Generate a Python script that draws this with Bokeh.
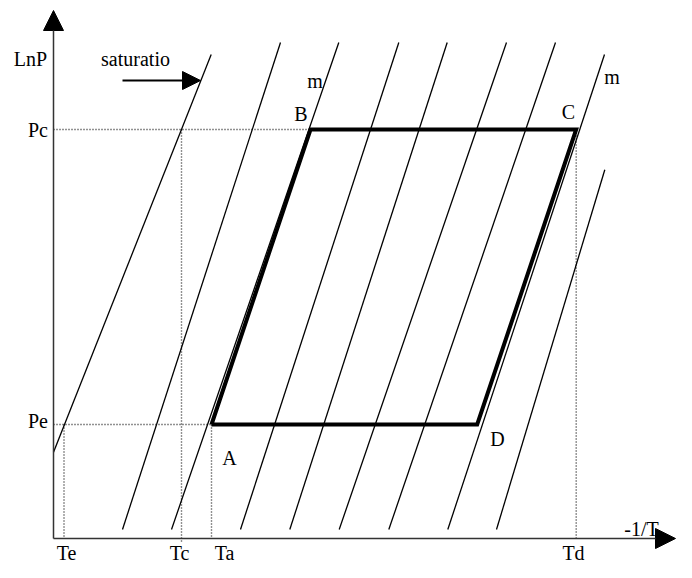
from bokeh.plotting import figure
from bokeh.models import Range1d, Arrow, NormalHead
from bokeh.core.properties import value
from bokeh.embed import file_html
from bokeh.resources import INLINE

# --- values (arbitrary units: x = -1/T, y = LnP) ---
temp_labels = ["Te", "Tc", "Ta", "Td"]
temp_x = [10.5, 128, 158, 522.7]
pres_labels = ["Pe", "Pc"]
pres_y = [114, 409]

# thermodynamic cycle A-B-C-D
cycle_labels = ["A", "B", "C", "D"]
cycle_x = [158, 257, 522.7, 423.7]
cycle_y = [114, 409, 409, 114]

# isosteres (start / end points)
iso_x0 = [69, 118, 187, 236.3, 285.7, 335.3, 394.3, 443]
iso_y0 = [9, 9, 9, 9, 9, 9, 9, 9]
iso_x1 = [227, 285.3, 345.3, 393.7, 453, 502, 551, 551.3]
iso_y1 = [496, 496, 496, 496, 496, 496, 484, 368.7]

# saturation line
sat_x = [0, 157.7]
sat_y = [86.3, 484]

FONT = value("Liberation Serif")

p = figure(width=676, height=562, x_range=Range1d(-53, 623), y_range=Range1d(-24, 538),
           output_backend="svg", toolbar_location=None, x_axis_type=None, y_axis_type=None,
           min_border=0)
p.grid.visible = False
p.outline_line_color = None
p.background_fill_color = "white"

# axes as arrows
p.add_layout(Arrow(end=NormalHead(size=20, fill_color="black", line_color="black"),
                   x_start=0, y_start=0, x_end=0, y_end=528, line_width=1.5, line_color="#333"))
p.add_layout(Arrow(end=NormalHead(size=20, fill_color="black", line_color="black"),
                   x_start=0, y_start=0, x_end=622, y_end=0, line_width=1.5, line_color="#333"))

# dotted guide lines
dot_x0 = [0, 0, temp_x[0], temp_x[1], temp_x[2], temp_x[3]]
dot_y0 = [pres_y[1], pres_y[0], pres_y[0], pres_y[1], pres_y[0], pres_y[1]]
dot_x1 = [cycle_x[1], cycle_x[0], temp_x[0], temp_x[1], temp_x[2], temp_x[3]]
dot_y1 = [pres_y[1], pres_y[0], 0, -5, 0, 0]
p.segment(x0=dot_x0, y0=dot_y0, x1=dot_x1, y1=dot_y1, line_width=1.4,
          line_color="#222", line_dash="1 2")

# isosteres and saturation line
p.segment(x0=iso_x0, y0=iso_y0, x1=iso_x1, y1=iso_y1, line_width=1.3, line_color="black")
p.line(sat_x, sat_y, line_width=1.3, line_color="black")

# cycle
p.line(cycle_x + [cycle_x[0]], cycle_y + [cycle_y[0]], line_width=4,
       line_color="black", line_join="miter")

# saturation arrow
p.add_layout(Arrow(end=NormalHead(size=18, fill_color="black", line_color="black"),
                   x_start=69, y_start=458, x_end=147, y_end=458, line_width=2,
                   line_color="black"))

# labels
lab_x = [-23, 82, -15.5, -15.5, 176, 247.5, 515, 444, 261.5, 558.5,
         13, 126, 171, 520, 588]
lab_y = [480, 480, pres_y[1], pres_y[0] + 4, 81, 424.5, 427, 100, 458, 461.5,
         -14, -14, -14, -14, 10]
lab_t = ["LnP", "saturatio", pres_labels[1], pres_labels[0]] + cycle_labels[:1] + \
        [cycle_labels[1], cycle_labels[2], cycle_labels[3], "m", "m"] + temp_labels + ["-1/T"]
p.text(x=lab_x, y=lab_y, text=lab_t, text_font=FONT, text_font_size="20px",
       text_align="center", text_baseline="middle", text_color="black")

open("out.html", "w").write(file_html(p, INLINE))
